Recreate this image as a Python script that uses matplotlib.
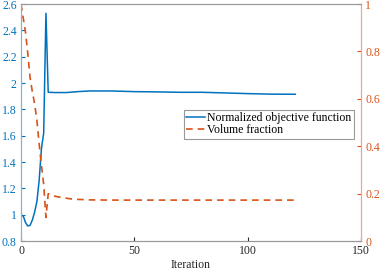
import matplotlib
matplotlib.use("Agg")
import matplotlib.pyplot as plt
import numpy as np

# objective (left axis)
obj_iter = [0, 1, 2, 3, 4, 5, 6, 7, 8, 9, 10, 11, 12, 15, 20, 25, 30, 40, 50,
            60, 70, 80, 90, 100, 110, 121]
obj_vals = [1.0, 0.99, 0.94, 0.915, 0.92, 0.96, 1.02, 1.1, 1.26, 1.5, 1.62,
            2.53, 1.93, 1.928, 1.928, 1.935, 1.94, 1.94, 1.935, 1.933, 1.93,
            1.93, 1.925, 1.92, 1.916, 1.915]

# volume fraction (right axis)
vol_iter = [0, 1, 2, 3, 4, 5, 6, 7, 8, 9, 10, 11, 12, 13, 14, 16, 18, 20, 22,
            25, 30, 40, 60, 80, 100, 121]
vol_vals = [1.0, 0.94, 0.88, 0.79, 0.69, 0.63, 0.58, 0.51, 0.41, 0.32, 0.24,
            0.10, 0.20, 0.195, 0.192, 0.187, 0.184, 0.181, 0.178, 0.176,
            0.174, 0.173, 0.173, 0.173, 0.173, 0.173]

blue = '#0072BD'
orange = '#D95319'

plt.rcParams['font.family'] = ['Liberation Serif', 'DejaVu Serif']
plt.rcParams['font.size'] = 8.5

fig = plt.figure(figsize=(3.82, 2.70), dpi=100)
ax1 = fig.add_axes([0.055, 0.107, 0.89, 0.878])
ax2 = ax1.twinx()

l1, = ax1.plot(obj_iter, obj_vals, color=blue, lw=1.1,
               label='Normalized objective function')
l2, = ax2.plot(vol_iter, vol_vals, color=orange, lw=1.2, linestyle=(0, (4, 3)),
               label='Volume fraction')

ax1.set_xlim(0, 150)
ax1.set_ylim(0.8, 2.6)
ax2.set_ylim(0, 1)
ax1.set_xticks([0, 50, 100, 150])
ax1.set_yticks(np.arange(0.8, 2.61, 0.2))
ax1.set_yticklabels(['0.8', '1', '1.2', '1.4', '1.6', '1.8', '2', '2.2', '2.4', '2.6'])
ax2.set_yticks([0, 0.2, 0.4, 0.6, 0.8, 1])
ax2.set_yticklabels(['0', '0.2', '0.4', '0.6', '0.8', '1'])

ax1.tick_params(axis='y', direction='in', colors=blue, length=3, pad=3)
ax1.tick_params(axis='x', direction='in', colors='#262626', length=3, pad=3)
ax2.tick_params(axis='y', direction='in', colors=orange, length=3, pad=3)

for ax in (ax1, ax2):
    ax.spines['top'].set_color('#999999')
    ax.spines['bottom'].set_color('#999999')
    ax.spines['left'].set_color('#7fb3da')
    ax.spines['right'].set_color('#eba98c')
    for s in ax.spines.values():
        s.set_linewidth(0.8)

ax1.set_xlabel('Iteration', labelpad=1, color='#262626')

leg = ax2.legend(handles=[l1, l2], loc='upper left',
                 bbox_to_anchor=(0.479, 0.555), fontsize=8.5,
                 handlelength=1.6, handletextpad=0.2, borderpad=0.2,
                 labelspacing=0.05, borderaxespad=0, fancybox=False,
                 framealpha=1, edgecolor='#999999')
leg.get_frame().set_linewidth(0.8)

fig.savefig('out.png', dpi=100)
